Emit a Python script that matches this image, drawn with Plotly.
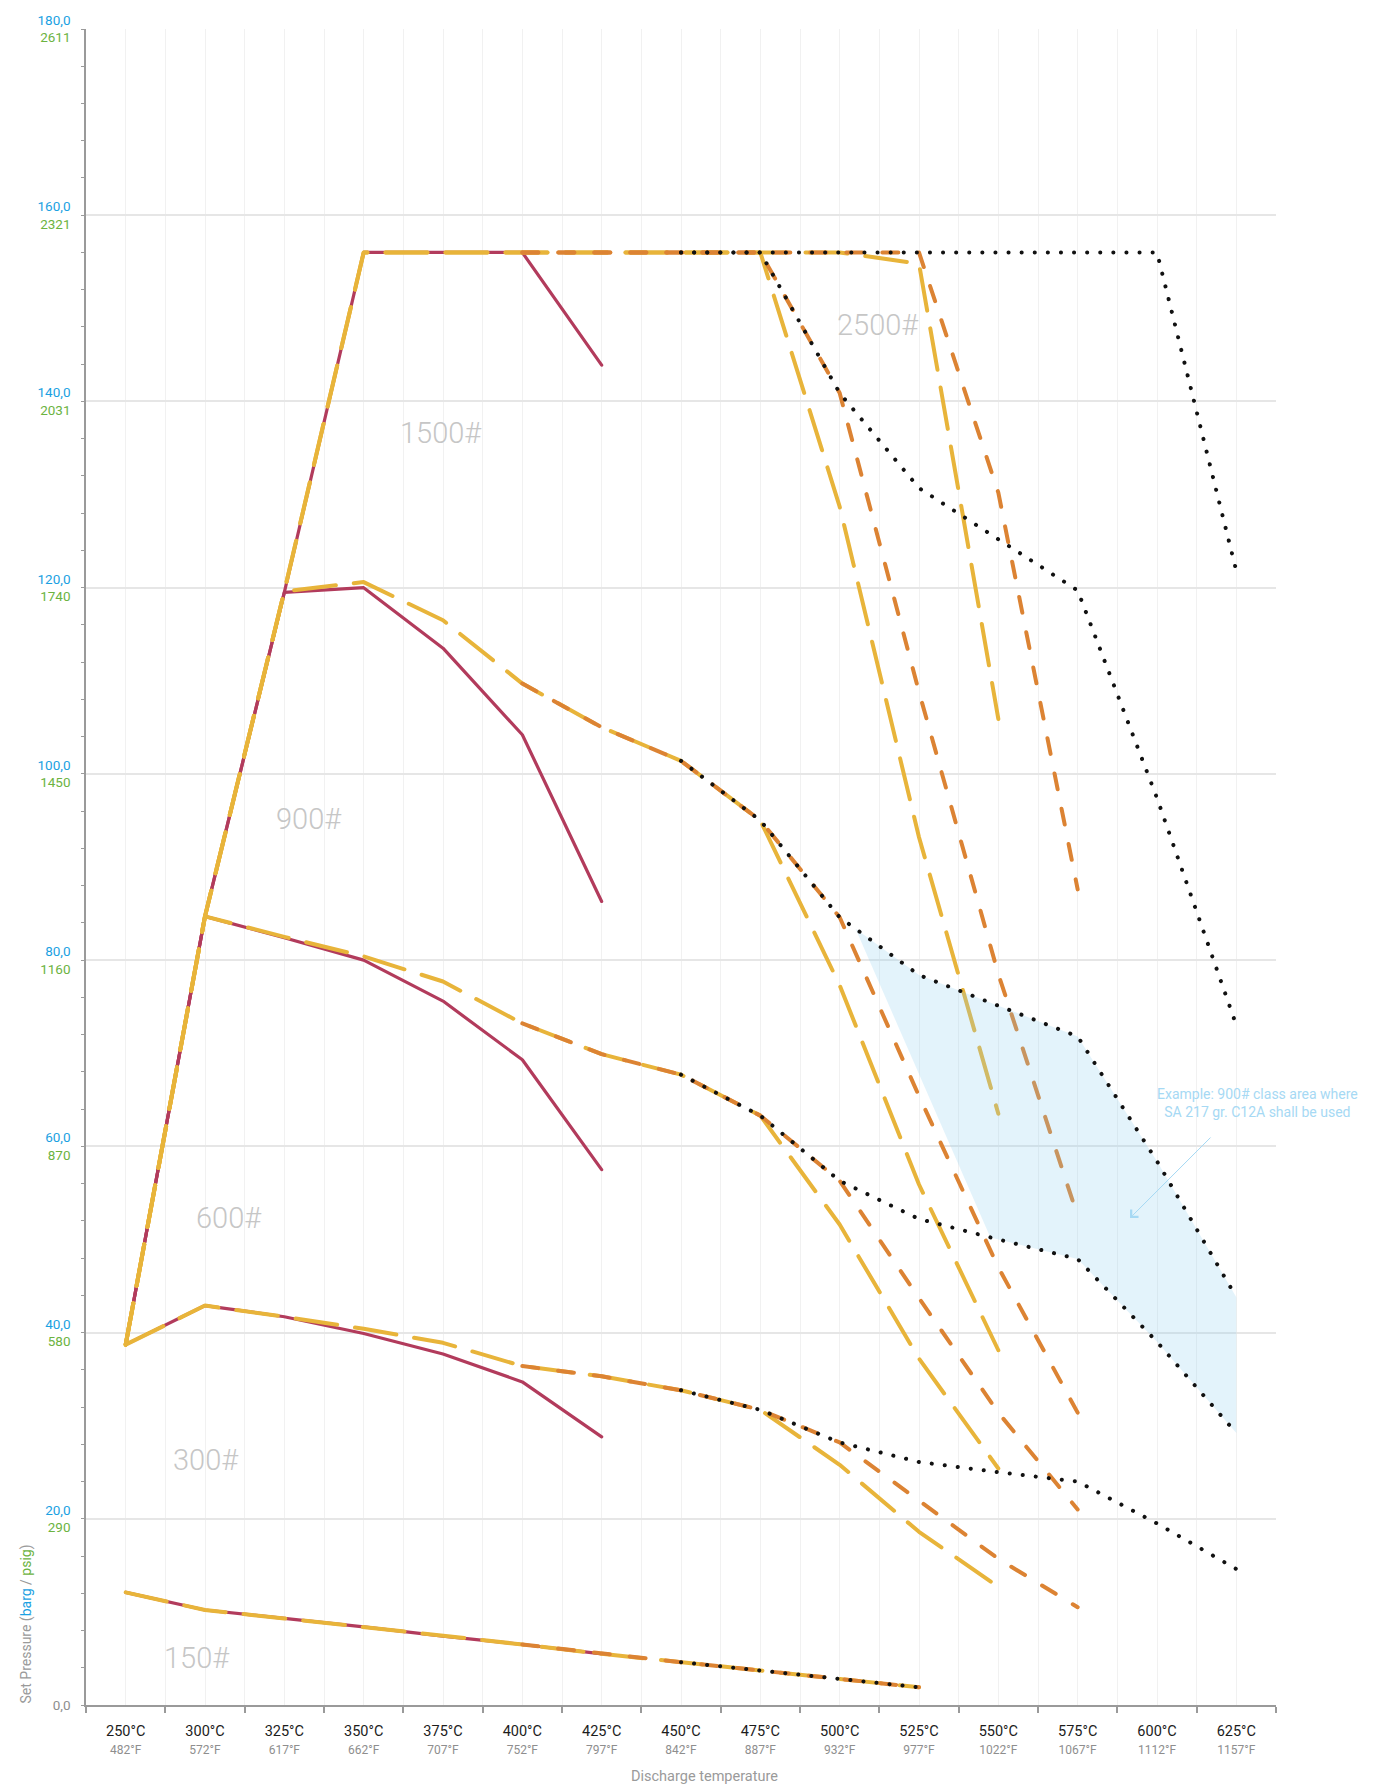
import math
import plotly.graph_objects as go

# ---------------- data ----------------
TEMPS_C = [250, 300, 325, 350, 375, 400, 425, 450, 475, 500, 525, 550, 575, 600, 625]
TEMPS_F = [482, 572, 617, 662, 707, 752, 797, 842, 887, 932, 977, 1022, 1067, 1112, 1157]

BARG_TICKS = [0, 20, 40, 60, 80, 100, 120, 140, 160, 180]
PSIG_TICKS = [None, 290, 580, 870, 1160, 1450, 1740, 2031, 2321, 2611]

N = None
CLASSES = ["150#", "300#", "600#", "900#", "1500#", "2500#"]

# crimson solid
WCB_150 = [12.1, 10.2, 9.3, 8.4, 7.4, 6.5, 5.5, N, N, N, N, N, N, N, N]
WCB_300 = [38.7, 42.9, 41.7, 39.9, 37.7, 34.7, 28.8, N, N, N, N, N, N, N, N]
WCB_600 = [38.7, 84.7, 82.4, 80.0, 75.6, 69.3, 57.5, N, N, N, N, N, N, N, N]
WCB_900 = [38.7, 84.7, 119.5, 120.0, 113.5, 104.2, 86.3, N, N, N, N, N, N, N, N]
WCB_1500 = [38.7, 84.7, 119.5, 156.0, 156.0, 156.0, 143.9, N, N, N, N, N, N, N, N]

# yellow long dash
WC6_150 = [12.1, 10.2, 9.3, 8.4, 7.4, 6.5, 5.5, 4.6, 3.7, 2.8, 1.9, N, N, N, N]
WC6_300 = [38.7, 42.9, 41.7, 40.4, 38.9, 36.4, 35.3, 33.8, 31.7, 25.8, 18.6, 12.7, N, N, N]
WC6_600 = [38.7, 84.7, 82.5, 80.4, 77.7, 73.2, 69.9, 67.7, 63.3, 51.6, 37.2, 25.4, N, N, N]
WC6_900 = [38.7, 84.7, 119.6, 120.6, 116.5, 109.7, 105.0, 101.4, 95.0, 77.3, 55.9, 38.1, N, N, N]
WC6_1500 = [38.7, 84.7, 119.6, 156.0, 156.0, 156.0, 156.0, 156.0, 156.0, 128.7, 93.2, 63.5, N, N, N]
WC6_2500 = [38.7, 84.7, 119.6, 156.0, 156.0, 156.0, 156.0, 156.0, 156.0, 156.0, 154.8, 105.9, N, N, N]

# orange dash
WC9_150 = [N, N, N, N, N, 6.5, 5.5, 4.6, 3.7, 2.8, 1.9, N, N, N, N]
WC9_300 = [N, N, N, N, N, 36.4, 35.3, 33.8, 31.7, 28.2, 21.9, 15.7, 10.5, N, N]
WC9_600 = [N, N, N, N, N, 73.2, 69.9, 67.7, 63.3, 56.3, 43.7, 31.4, 21.0, N, N]
WC9_900 = [N, N, N, N, N, 109.7, 105.0, 101.4, 95.0, 84.6, 65.4, 47.0, 31.4, N, N]
WC9_1500 = [N, N, N, N, N, 156.0, 156.0, 156.0, 156.0, 140.9, 108.8, 78.5, 52.5, N, N]
WC9_2500 = [N, N, N, N, N, 156.0, 156.0, 156.0, 156.0, 156.0, 156.0, 130.2, 87.6, N, N]

# black dotted
C12A_150 = [N, N, N, N, N, N, N, 4.6, 3.7, 2.8, 1.9, N, N, N, N]
C12A_300 = [N, N, N, N, N, N, N, 33.8, 31.7, 28.2, 26.1, 25.0, 24.0, 19.5, 14.6]
C12A_600 = [N, N, N, N, N, N, N, 67.7, 63.3, 56.3, 52.2, 50.0, 47.9, 39.0, 29.2]
C12A_900 = [N, N, N, N, N, N, N, 101.4, 95.0, 84.6, 78.4, 75.1, 71.8, 58.4, 43.8]
C12A_1500 = [N, N, N, N, N, N, N, 156.0, 156.0, 140.9, 130.7, 125.2, 119.7, 97.4, 73.0]
C12A_2500 = [N, N, N, N, N, N, N, 156.0, 156.0, 156.0, 156.0, 156.0, 156.0, 156.0, 121.8]

# shaded example area (900# class, C12A): left edge in category-position units
SHADE_LEFT_TOP = 9.2
SHADE_LEFT_BOTTOM = 10.9

# ---------------- styling ----------------
FONT = "Roboto, Liberation Sans Narrow, Arial, sans-serif"
BLUE = "#1ba1e2"
GREEN = "#6cb33f"
GREY_TXT = "#8e8e8e"

X = list(range(len(TEMPS_C)))

fig = go.Figure()


def add_line(series, color, width, dash):
    fig.add_trace(go.Scatter(
        x=X, y=series, mode="lines", connectgaps=False,
        line=dict(color=color, width=width, dash=dash, shape="linear"),
        hoverinfo="skip", showlegend=False,
    ))


for s in [WCB_150, WCB_300, WCB_600, WCB_900, WCB_1500]:
    add_line(s, "#b23b5c", 3.2, "solid")
for s in [WC6_150, WC6_300, WC6_600, WC6_900, WC6_1500, WC6_2500]:
    add_line(s, "#e8b43a", 4, "42px,18px")
for s in [WC9_150, WC9_300, WC9_600, WC9_900, WC9_1500, WC9_2500]:
    add_line(s, "#dc8333", 4, "16px,20px")


def interp(series, pos):
    i = int(math.floor(pos))
    f = pos - i
    if f == 0:
        return series[i]
    return series[i] + f * (series[i + 1] - series[i])


last = len(X) - 1
sx = [SHADE_LEFT_TOP]
sy = [interp(C12A_900, SHADE_LEFT_TOP)]
for i in range(int(math.ceil(SHADE_LEFT_TOP)), last + 1):
    sx.append(X[i]); sy.append(C12A_900[i])
for i in range(last, int(math.floor(SHADE_LEFT_BOTTOM)), -1):
    sx.append(X[i]); sy.append(C12A_600[i])
sx.append(SHADE_LEFT_BOTTOM); sy.append(interp(C12A_600, SHADE_LEFT_BOTTOM))
fig.add_trace(go.Scatter(
    x=sx, y=sy, mode="lines", fill="toself",
    fillcolor="rgba(140,205,238,0.24)", line=dict(width=0),
    hoverinfo="skip", showlegend=False,
))

for s in [C12A_150, C12A_300, C12A_600, C12A_900, C12A_1500, C12A_2500]:
    add_line(s, "#111111", 4, "0.1px,13px")

# ---------------- axes ----------------
xticktext = [
    f"<span style='color:#1c1c1c;font-size:14.5px'>{c}°C</span><br>"
    f"<span style='color:{GREY_TXT};font-size:12px'>{f}°F</span>"
    for c, f in zip(TEMPS_C, TEMPS_F)
]
yticktext = []
for b, p in zip(BARG_TICKS, PSIG_TICKS):
    bs = f"{b:.1f}".replace(".", ",")
    if p is None:
        yticktext.append(f"<span style='color:{GREY_TXT}'>{bs}</span>")
    else:
        yticktext.append(f"<span style='color:{BLUE}'>{bs}</span><br><span style='color:{GREEN}'>{p}</span>")

fig.update_xaxes(
    range=[-0.5, len(X) - 0.5], tickmode="array", tickvals=X, ticktext=xticktext,
    ticks="outside", ticklen=12, tickcolor="rgba(0,0,0,0)",
    showgrid=True, gridcolor="#f1f1f1", gridwidth=1,
    showline=True, linecolor="#9a9a9a", linewidth=1.5,
    zeroline=False, fixedrange=True,
    minor=dict(tickmode="array", tickvals=[i - 0.5 for i in range(len(X) + 1)],
               ticks="outside", ticklen=6, tickcolor="#9a9a9a", tickwidth=1.5,
               showgrid=True, gridcolor="#f1f1f1", gridwidth=1),
)
fig.update_yaxes(
    range=[0, 180], tickmode="array", tickvals=BARG_TICKS, ticktext=yticktext,
    ticks="outside", ticklen=3, tickcolor="#9a9a9a", ticklabelstandoff=8,
    tickfont=dict(family=FONT, size=13.5),
    showgrid=True, gridcolor="#e6e6e6", gridwidth=1.5,
    showline=True, linecolor="#9a9a9a", linewidth=1.5,
    zeroline=False, fixedrange=True,
    minor=dict(dtick=4, ticks="outside", ticklen=3, tickcolor="#9a9a9a", showgrid=False),
)

# ---------------- annotations ----------------
CLASS_LABEL_POS = [(0.89, 5.1), (1.01, 26.3), (1.30, 52.3), (2.30, 95.2), (3.97, 136.6), (9.48, 148.2)]
for lab, (lx, ly) in zip(CLASSES, CLASS_LABEL_POS):
    fig.add_annotation(x=lx, y=ly, text=lab, showarrow=False,
                       font=dict(family=FONT, size=29, color="#c6c6c6", weight=300))

fig.add_annotation(x=14.27, y=64.7, xref="x", yref="y",
                   text="Example: 900# class area where<br>SA 217 gr. C12A shall be used",
                   showarrow=False, align="center",
                   font=dict(family=FONT, size=14, color="#a6d9f4"))
fig.add_annotation(x=12.66, y=52.3, xref="x", yref="y", text="",
                   showarrow=True, ax=82, ay=-82, arrowhead=4, arrowsize=2,
                   arrowwidth=1, arrowcolor="#a6d9f4", standoff=0)

fig.add_annotation(xref="paper", yref="paper", x=0.52, y=-0.049,
                   text="Discharge temperature", showarrow=False,
                   font=dict(family=FONT, size=14.5, color="#9a9a9a"))
fig.add_annotation(xref="paper", yref="y", x=-0.058, y=8.7, textangle=-90,
                   text=f"Set Pressure (<span style='color:{BLUE}'>barg</span> / "
                        f"<span style='color:{GREEN}'>psig</span>)",
                   showarrow=False,
                   font=dict(family=FONT, size=14, color="#9a9a9a"))

fig.update_layout(
    width=1379, height=1789,
    margin=dict(l=86, r=103, t=26, b=84),
    paper_bgcolor="white", plot_bgcolor="white",
    font=dict(family=FONT, size=14, color="#333"),
    showlegend=False,
)

POST = """
var gd = document.getElementById('{plot_id}');
function roundCaps(){
  gd.querySelectorAll('.scatterlayer .js-line').forEach(function(p){
    p.style.strokeLinecap = 'round';
    p.style.strokeLinejoin = 'round';
  });
}
roundCaps();
gd.on('plotly_afterplot', roundCaps);
"""

fig.write_html("out.html", include_plotlyjs=True, post_script=POST,
               config={"displayModeBar": False})
